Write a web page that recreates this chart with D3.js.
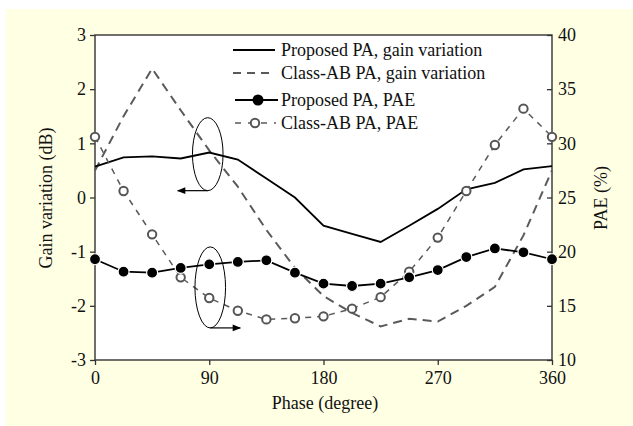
<!DOCTYPE html>
<html>
<head>
<meta charset="utf-8">
<script src="https://cdn.jsdelivr.net/npm/d3@7"></script>
<style>
  body { margin: 0; background: #fff; }
  svg { display: block; }
  text { font-family: "Liberation Serif", "Times New Roman", serif; fill: #111; }
</style>
</head>
<body>
<svg id="chart" width="633" height="426"></svg>
<script>
// phase points (degree)
const phase = [0, 22.5, 45, 67.5, 90, 112.5, 135, 157.5, 180, 202.5, 225, 247.5, 270, 292.5, 315, 337.5, 360];
// gain variation (dB), left axis
const propGain = [0.57, 0.74, 0.76, 0.72, 0.83, 0.70, 0.35, 0.0, -0.52, -0.67, -0.82, -0.52, -0.21, 0.15, 0.27, 0.52, 0.58];
const abGain = [0.5, 1.5, 2.38, 1.61, 0.87, 0.2, -0.6, -1.3, -1.82, -2.13, -2.38, -2.24, -2.29, -2.0, -1.65, -0.7, 0.5];
// PAE (%), right axis
const propPAE = [19.3, 18.15, 18.06, 18.5, 18.83, 19.05, 19.2, 18.06, 17.05, 16.83, 17.05, 17.63, 18.3, 19.5, 20.3, 19.94, 19.3];
const abPAE = [30.6, 25.6, 21.6, 17.63, 15.72, 14.55, 13.75, 13.85, 14.03, 14.74, 15.8, 18.15, 21.3, 25.6, 29.85, 33.2, 30.6];

const xTicks = [0, 90, 180, 270, 360];
const gainTicks = [-3, -2, -1, 0, 1, 2, 3];
const paeTicks = [10, 15, 20, 25, 30, 35, 40];
const legendLabels = ["Proposed PA, gain variation", "Class-AB PA, gain variation", "Proposed PA, PAE", "Class-AB PA, PAE"];

const svg = d3.select('#chart');
const plotL = 95, plotR = 552, plotT = 35, plotB = 360;

const x = d3.scaleLinear().domain([0, 360]).range([plotL, plotR]);
const yL = d3.scaleLinear().domain([-3, 3]).range([plotB, plotT]);
const yR = d3.scaleLinear().domain([10, 40]).range([plotB, plotT]);

// backgrounds
svg.append('rect').attr('x', 6).attr('y', 9).attr('width', 627).attr('height', 417).attr('fill', '#ffffe3');
svg.append('rect').attr('x', plotL).attr('y', plotT).attr('width', plotR - plotL).attr('height', plotB - plotT).attr('fill', '#fff');

// axes (plain hyphen minus like the original)
const fmt = d => String(d);
const axL = svg.append('g').attr('transform', `translate(${plotL},0)`)
  .call(d3.axisLeft(yL).tickValues(gainTicks).tickFormat(fmt).tickSize(5).tickSizeOuter(0).tickPadding(4));
const axR = svg.append('g').attr('transform', `translate(${plotR},0)`)
  .call(d3.axisRight(yR).tickValues(paeTicks).tickFormat(fmt).tickSize(-5).tickSizeOuter(0).tickPadding(6));
const axB = svg.append('g').attr('transform', `translate(0,${plotB})`)
  .call(d3.axisBottom(x).tickValues(xTicks).tickFormat(fmt).tickSize(5).tickSizeOuter(0).tickPadding(6));
[axL, axR, axB].forEach(g => {
  g.selectAll('path').remove();
  g.selectAll('line').attr('stroke', '#333').attr('stroke-width', 1.3);
  g.selectAll('text').style('font-family', '"Liberation Serif", serif').style('font-size', '18px').attr('fill', '#111');
});

// frame
svg.append('rect').attr('x', plotL).attr('y', plotT).attr('width', plotR - plotL).attr('height', plotB - plotT)
  .attr('fill', 'none').attr('stroke', '#333').attr('stroke-width', 1.4);

// axis titles
svg.append('text').attr('transform', `translate(52,198) rotate(-90)`).attr('text-anchor', 'middle')
  .style('font-size', '18px').text('Gain variation (dB)');
svg.append('text').attr('transform', `translate(607,198) rotate(-90)`).attr('text-anchor', 'middle')
  .style('font-size', '18px').text('PAE (%)');
svg.append('text').attr('x', 325).attr('y', 409).attr('text-anchor', 'middle')
  .style('font-size', '18px').text('Phase (degree)');

// lines
const lineL = vals => d3.line().x((d, i) => x(phase[i])).y(d => yL(d))(vals);
const lineR = vals => d3.line().x((d, i) => x(phase[i])).y(d => yR(d))(vals);

svg.append('path').attr('d', lineL(abGain)).attr('fill', 'none')
  .attr('stroke', '#5a5a5a').attr('stroke-width', 2).attr('stroke-dasharray', '9,6');
svg.append('path').attr('d', lineL(propGain)).attr('fill', 'none')
  .attr('stroke', '#000').attr('stroke-width', 1.8);

svg.append('path').attr('d', lineR(abPAE)).attr('fill', 'none')
  .attr('stroke', '#5a5a5a').attr('stroke-width', 1.5).attr('stroke-dasharray', '6,6');
svg.append('path').attr('d', lineR(propPAE)).attr('fill', 'none')
  .attr('stroke', '#000').attr('stroke-width', 1.8);

svg.append('g').selectAll('circle').data(abPAE).join('circle')
  .attr('cx', (d, i) => x(phase[i])).attr('cy', d => yR(d)).attr('r', 4.2)
  .attr('fill', '#fff').attr('stroke', '#555').attr('stroke-width', 2);
svg.append('g').selectAll('circle').data(propPAE).join('circle')
  .attr('cx', (d, i) => x(phase[i])).attr('cy', d => yR(d)).attr('r', 5.5)
  .attr('fill', '#000').attr('stroke', '#fff').attr('stroke-width', 1.2);

// annotations: ellipses with arrows pointing to the axis they belong to
svg.append('defs').append('marker').attr('id', 'arr').attr('viewBox', '0 0 10 10')
  .attr('refX', 9).attr('refY', 5).attr('markerWidth', 9).attr('markerHeight', 7).attr('orient', 'auto')
  .append('path').attr('d', 'M0,1 L10,5 L0,9 Z').attr('fill', '#000');

const e1 = { cx: x(90) - 1.5, cy: yL(0.8), ry: 36.5 };
svg.append('ellipse').attr('cx', e1.cx).attr('cy', e1.cy).attr('rx', 15.3).attr('ry', e1.ry)
  .attr('fill', 'none').attr('stroke', '#000').attr('stroke-width', 1);
svg.append('line').attr('x1', e1.cx).attr('y1', e1.cy + e1.ry).attr('x2', e1.cx - 30).attr('y2', e1.cy + e1.ry)
  .attr('stroke', '#000').attr('stroke-width', 1.2).attr('marker-end', 'url(#arr)');

const e2 = { cx: x(90) + 1, cy: yR(16.7), ry: 40.5 };
svg.append('ellipse').attr('cx', e2.cx).attr('cy', e2.cy).attr('rx', 15.3).attr('ry', e2.ry)
  .attr('fill', 'none').attr('stroke', '#000').attr('stroke-width', 1);
svg.append('line').attr('x1', e2.cx).attr('y1', e2.cy + e2.ry).attr('x2', e2.cx + 30).attr('y2', e2.cy + e2.ry)
  .attr('stroke', '#000').attr('stroke-width', 1.2).attr('marker-end', 'url(#arr)');

// legend
const legY = [50, 73, 100, 123];
const leg = svg.append('g');
leg.append('line').attr('x1', 233).attr('x2', 275).attr('y1', legY[0]).attr('y2', legY[0])
  .attr('stroke', '#000').attr('stroke-width', 1.8);
leg.append('line').attr('x1', 233).attr('x2', 275).attr('y1', legY[1]).attr('y2', legY[1])
  .attr('stroke', '#5a5a5a').attr('stroke-width', 2).attr('stroke-dasharray', '8,6');
leg.append('line').attr('x1', 235).attr('x2', 278).attr('y1', legY[2]).attr('y2', legY[2])
  .attr('stroke', '#000').attr('stroke-width', 1.8);
leg.append('circle').attr('cx', 258).attr('cy', legY[2]).attr('r', 5.5).attr('fill', '#000');
leg.append('line').attr('x1', 235).attr('x2', 276).attr('y1', legY[3]).attr('y2', legY[3])
  .attr('stroke', '#5a5a5a').attr('stroke-width', 1.5).attr('stroke-dasharray', '6,7');
leg.append('circle').attr('cx', 255).attr('cy', legY[3]).attr('r', 4.2)
  .attr('fill', '#fff').attr('stroke', '#555').attr('stroke-width', 2);
leg.selectAll('text').data(legendLabels).join('text')
  .attr('x', 281).attr('y', (d, i) => legY[i] + 6)
  .style('font-size', '18px').text(d => d);
</script>
</body>
</html>
